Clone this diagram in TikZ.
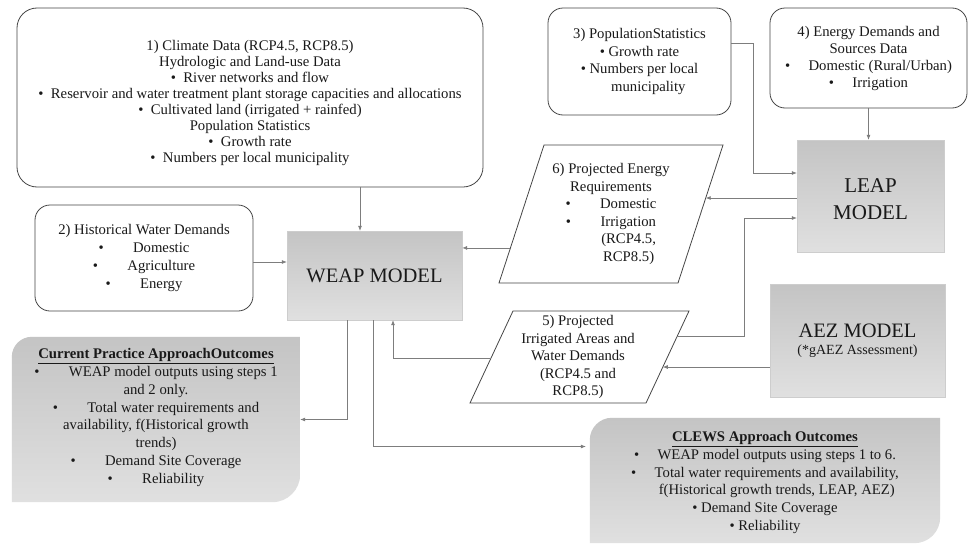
\documentclass[tikz,border=0pt]{standalone}
\usepackage{fontspec}
\setmainfont{Liberation Serif}
\usetikzlibrary{arrows.meta,calc,backgrounds}
\definecolor{linegray}{RGB}{125,125,125}
\definecolor{boxline}{RGB}{70,70,70}
\definecolor{shadetop}{RGB}{196,196,196}
\definecolor{shadebot}{RGB}{224,224,224}
\begin{document}
\begin{tikzpicture}[x=1pt,y=-1pt,
  txt/.style={font=\fontsize{14.7}{16}\selectfont, align=center, text=black!90},
  inbox/.style={draw=boxline, line width=0.8pt, fill=white, txt},
  model/.style={top color=shadetop, bottom color=shadebot, draw=shadetop!85!white, line width=0.4pt, align=center, text=black!90},
  paral/.style={draw=boxline, line width=0.8pt, fill=white},
  conn/.style={draw=linegray, line width=0.7pt, -{Latex[length=5pt,width=4pt]}},
  outshade/.style={top color=shadetop, bottom color=shadebot}
]
\useasboundingbox (0,0) rectangle (969,546);

% input boxes
\node[inbox, rounded corners=20pt, minimum width=466pt, minimum height=179pt] (b1) at (250,97.5)
  {\rule{0pt}{21pt}1) Climate Data (RCP4.5, RCP8.5)\\
   Hydrologic and Land-use Data\\
   \textbullet\ \ River networks and flow\\
   \textbullet\ \ Reservoir and water treatment plant storage capacities and allocations\\
   \textbullet\ \ Cultivated land (irrigated + rainfed)\\
   Population Statistics\\
   \textbullet\ \ Growth rate\\
   \textbullet\ \ Numbers per local municipality};

\node[inbox, rounded corners=15pt, minimum width=218pt, minimum height=106pt,
      font=\fontsize{14.7}{18}\selectfont] (b2) at (144,258)
  {2) Historical Water Demands\\
   \textbullet\qquad Domestic\\
   \textbullet\qquad Agriculture\\
   \textbullet\qquad Energy};

\node[inbox, rounded corners=15pt, minimum width=183pt, minimum height=107pt,
      font=\fontsize{14.7}{17.5}\selectfont] (b3) at (639.5,61.5)
  {3) PopulationStatistics\\
   \textbullet\ Growth rate\\
   \textbullet\ Numbers per local\\
   \hspace*{1.2em}municipality};

\node[inbox, rounded corners=15pt, minimum width=197pt, minimum height=100pt,
      font=\fontsize{14.7}{17}\selectfont] (b4) at (868.5,58)
  {4) Energy Demands and\\
   Sources Data\\
   \textbullet\quad\ Domestic (Rural/Urban)\\
   \textbullet\quad\ Irrigation};

% models
\node[model, minimum width=175pt, minimum height=89pt, font=\fontsize{20.5}{24}\selectfont] (weap) at (374.5,275.5) {WEAP MODEL};
\node[model, minimum width=147pt, minimum height=112pt, font=\fontsize{21}{27}\selectfont] (leap) at (870.5,196) {\rule{0pt}{20pt}LEAP\\MODEL};
\node[model, minimum width=175pt, minimum height=113pt] (aez) at (857.5,340.5)
  {\fontsize{20.5}{22}\selectfont AEZ MODEL\\[5pt]
   \fontsize{14}{16}\selectfont (*gAEZ Assessment)};

% parallelograms (outline through named corner coordinates)
\coordinate (p6tl) at (544,145);
\coordinate (p6tr) at (723,145);
\coordinate (p6br) at (678,283);
\coordinate (p6bl) at (499,283);
\coordinate (p5tl) at (513,311);
\coordinate (p5tr) at (689,311);
\coordinate (p5br) at (646,403);
\coordinate (p5bl) at (470,403);
\draw[paral] (p6tl) -- (p6tr) -- (p6br) -- (p6bl) -- cycle;
\draw[paral] (p5tl) -- (p5tr) -- (p5br) -- (p5bl) -- cycle;

\node[txt, font=\fontsize{14.7}{17.6}\selectfont] (p6) at (611,214)
  {6) Projected Energy\\
   Requirements\\
   \textbullet\qquad Domestic\\
   \textbullet\qquad Irrigation\\
   \hspace*{2.4em}(RCP4.5,\\
   \hspace*{2.4em}RCP8.5)};

\node[txt, font=\fontsize{14.7}{17.5}\selectfont] (p5) at (578,357)
  {5) Projected\\
   Irrigated Areas and\\
   Water Demands\\
   (RCP4.5 and\\
   RCP8.5)};

% outcome boxes
\node[minimum width=288pt, minimum height=165pt] (cur) at (156,419.5) {};
\node[minimum width=350pt, minimum height=125pt] (clews) at (765,480.5) {};
\begin{scope}[on background layer]
\fill[white] (0,0) rectangle (969,546);
\shade[outshade] (cur.south west) -- ([yshift=-20pt]cur.north west)
  .. controls ([yshift=-9pt]cur.north west) and ([xshift=9pt]cur.north west) .. ([xshift=20pt]cur.north west)
  -- (cur.north east) -- ([yshift=28pt]cur.south east)
  .. controls ([yshift=12.5pt]cur.south east) and ([xshift=-12.5pt]cur.south east) .. ([xshift=-28pt]cur.south east)
  -- cycle;
\shade[outshade] (clews.south west) -- ([yshift=-22pt]clews.north west)
  .. controls ([yshift=-10pt]clews.north west) and ([xshift=10pt]clews.north west) .. ([xshift=22pt]clews.north west)
  -- (clews.north east) -- ([yshift=26pt]clews.south east)
  .. controls ([yshift=11.5pt]clews.south east) and ([xshift=-11.5pt]clews.south east) .. ([xshift=-26pt]clews.south east)
  -- cycle;
\end{scope}
\node[txt, font=\fontsize{14.7}{17.8}\selectfont] (curtext) at ([yshift=2pt]cur.center)
  {\textbf{\underline{Current Practice ApproachOutcomes}}\\
   \textbullet\qquad WEAP model outputs using steps 1\\
   and 2 only.\\
   \textbullet\qquad Total water requirements and\\
   availability, f(Historical growth\\
   trends)\\
   \textbullet\qquad Demand Site Coverage\\
   \textbullet\qquad Reliability};
\node[txt, font=\fontsize{14.7}{17.8}\selectfont] (clewstext) at ([yshift=-2pt]clews.center)
  {\textbf{\underline{CLEWS Approach Outcomes}}\\
   \textbullet\quad\ WEAP model outputs using steps 1 to 6.\\
   \textbullet\quad\ Total water requirements and availability,\\
   \hspace*{1.6em}f(Historical growth trends, LEAP, AEZ)\\
   \textbullet\ Demand Site Coverage\\
   \textbullet\ Reliability};

% points on slanted sides
\coordinate (p6L) at ($(p6bl)!0.254!(p6tl)$);
\coordinate (p6R) at ($(p6br)!0.616!(p6tr)$);
\coordinate (p5L) at ($(p5bl)!0.489!(p5tl)$);
\coordinate (p5R) at ($(p5br)!0.728!(p5tr)$);
\coordinate (p5R2) at ($(p5br)!0.391!(p5tr)$);

% connectors
\draw[conn] ([xshift=-14.5pt]weap.north |- b1.south) -- ([xshift=-14.5pt]weap.north);
\draw[conn] ([yshift=-4pt]b2.east) -- ([yshift=-4pt]b2.east -| weap.west);
\draw[conn] ([yshift=18.5pt]b3.east) -- ++(22,0) |- ([yshift=23pt]leap.west);
\draw[conn] (b4.south) -- (b4.south |- leap.north);
\draw[conn] (leap.west |- p6R) -- (p6R);
\draw[conn] (p5R) -| ($([yshift=-22pt]leap.west)+(-52,0)$) -- ([yshift=-22pt]leap.west);
\draw[conn] (aez.west |- p5R2) -- (p5R2);
\draw[conn] (p6L) -- (p6L -| weap.east);
\draw[conn] (p5L) -| ([xshift=18.5pt]weap.south);
\draw[conn] ([xshift=-27.5pt]weap.south) |- (cur.east);
\draw[conn] ([xshift=-1.5pt]weap.south) |- ([xshift=-4pt,yshift=34pt]clews.west);
\end{tikzpicture}
\end{document}
